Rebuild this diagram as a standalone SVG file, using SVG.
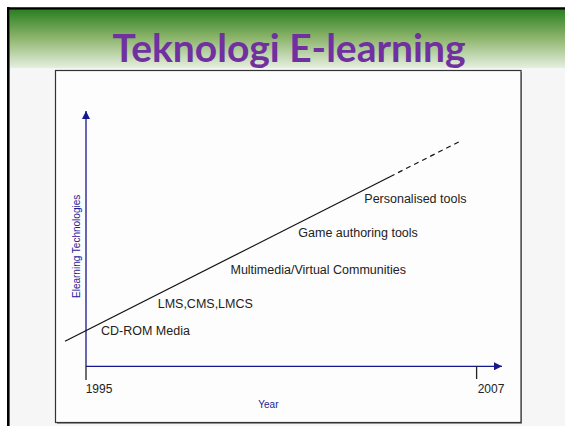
<svg xmlns="http://www.w3.org/2000/svg" width="565" height="426" viewBox="0 0 565 426">
  <defs>
    <linearGradient id="hdr" x1="0" y1="0" x2="0" y2="1">
      <stop offset="0" stop-color="#2b7f22"/>
      <stop offset="0.45" stop-color="#86b165"/>
      <stop offset="1" stop-color="#e6efdf"/>
    </linearGradient>
    <marker id="arr" viewBox="0 0 10 10" refX="10" refY="5" markerWidth="8" markerHeight="8" markerUnits="userSpaceOnUse" orient="auto">
      <path d="M0,0 L10,5 L0,10 z" fill="#16168f"/>
    </marker>
    <style>
      .lbl { font-family: "Liberation Sans", Arial, sans-serif; font-size: 12.5px; fill: #222; }
      .yr { font-family: "Liberation Sans", Arial, sans-serif; font-size: 12px; fill: #222; }
      .ax { font-family: "Liberation Sans", Arial, sans-serif; font-size: 10px; fill: #1c1c96; }
      .axis { stroke: #16168f; stroke-width: 1.3; fill: none; }
      .tick { stroke: #222; stroke-width: 1.3; }
      .trend { stroke: #111; stroke-width: 1.2; fill: none; }
    </style>
  </defs>

  <rect x="0" y="0" width="565" height="426" fill="#ffffff"/>
  <rect x="9" y="9" width="556" height="417" fill="#f6f6f6"/>
  <rect x="9.5" y="9.5" width="556" height="58.5" fill="url(#hdr)"/>
  <line x1="7" y1="8.5" x2="565" y2="8.5" stroke="#000" stroke-width="2.6"/>
  <line x1="8.3" y1="7" x2="8.3" y2="426" stroke="#000" stroke-width="2.6"/>

  <g id="title">
    <text x="289" y="62" text-anchor="middle" font-family="Lato, 'Open Sans', sans-serif" font-weight="bold" font-size="39" fill="#7030a0">Teknologi E-learning</text>
  </g>

  <g id="chart-frame">
    <rect x="57" y="72" width="465" height="352" fill="#9a9a9a"/>
    <rect x="55.5" y="70.5" width="465.5" height="352" fill="#fdfdfd" stroke="#333" stroke-width="1.2"/>
  </g>

  <g id="connectors">
    <line class="axis" x1="86" y1="366.3" x2="86" y2="111" marker-end="url(#arr)"/>
    <line class="axis" x1="86" y1="366.3" x2="502" y2="366.3" marker-end="url(#arr)"/>
    <line class="tick" x1="86" y1="366" x2="86" y2="380"/>
    <line class="tick" x1="476.6" y1="366" x2="476.6" y2="379"/>
    <line class="trend" x1="65" y1="341.3" x2="390" y2="176.7"/>
    <line class="trend" x1="390" y1="176.7" x2="462" y2="140.3" stroke-dasharray="5,4"/>
  </g>

  <g id="label-cdrom"><text class="lbl" x="101" y="335">CD-ROM Media</text></g>
  <g id="label-lms"><text class="lbl" x="157.7" y="307.7">LMS,CMS,LMCS</text></g>
  <g id="label-multimedia"><text class="lbl" x="406" y="274" text-anchor="end">Multimedia/Virtual Communities</text></g>
  <g id="label-game"><text class="lbl" x="298.3" y="236.7">Game authoring tools</text></g>
  <g id="label-personalised"><text class="lbl" x="364.3" y="202.7">Personalised tools</text></g>

  <g id="axis-labels">
    <text class="yr" x="85.7" y="393.3">1995</text>
    <text class="yr" x="477.7" y="393.3">2007</text>
    <text class="ax" x="258.3" y="407.7" font-size="10.6">Year</text>
    <text class="ax" transform="translate(79.5,298) rotate(-90)">Elearning Technologies</text>
  </g>
</svg>
